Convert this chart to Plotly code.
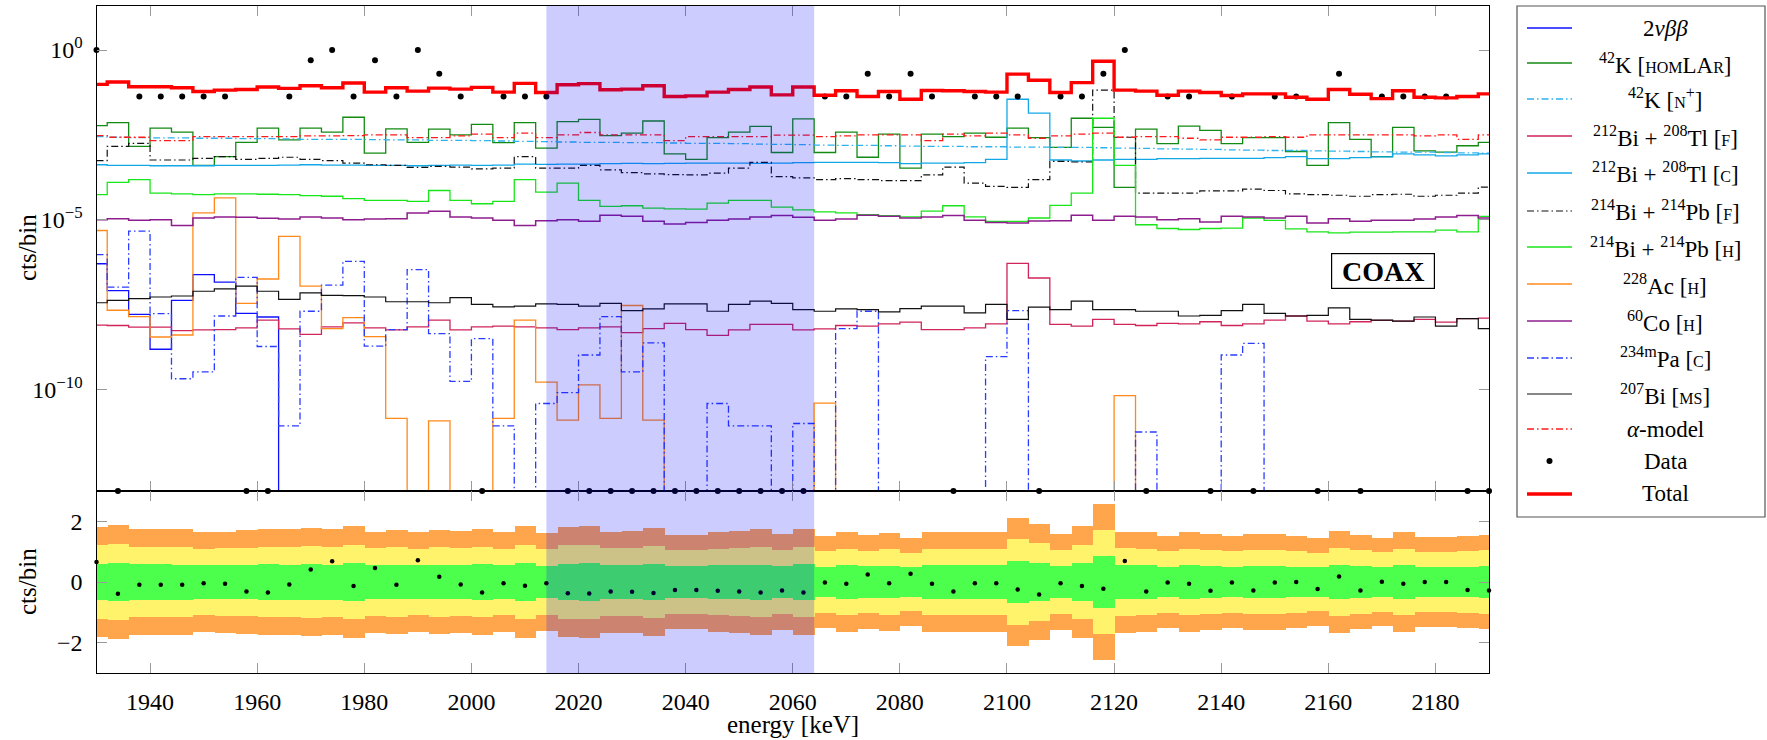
import plotly.graph_objects as go

# ---------------------------------------------------------------- data
# 4 keV bins, centres from 1930 to 2190 keV
energy = list(range(1930, 2191, 4))

# model components, log10(cts/bin) per bin (None = empty bin)
total_exp = [-1.01, -0.94, -1.08, -1.08, -1.11, -1.22, -1.18, -1.16, -1.09, -1.13,
             -1.05, -1.11, -0.97, -1.24, -1.11, -1.21, -1.12, -1.15, -1.10, -1.24,
             -0.98, -1.25, -1.02, -0.99, -1.17, -1.15, -1.05, -1.37, -1.35, -1.24,
             -1.16, -1.09, -1.32, -1.09, -1.33, -1.20, -1.37, -1.22, -1.45, -1.19,
             -1.20, -1.22, -1.24, -0.71, -0.89, -1.25, -0.96, -0.33, -1.18, -1.21,
             -1.33, -1.21, -1.25, -1.34, -1.29, -1.29, -1.39, -1.45, -1.16, -1.30,
             -1.43, -1.20, -1.39, -1.41, -1.37, -1.29]

bb2nu_exp = [-6.30, -7.09, -7.79, -8.82, -7.38, -6.62, -6.84, -7.76, -7.87] + [None] * 57

k42_homlar_exp = [-2.23, -2.14, -2.84, -2.30, -2.42, -3.40, -3.14, -2.72, -2.30, -2.65,
                  -2.30, -2.42, -1.98, -3.04, -2.32, -2.72, -2.33, -2.50, -2.19, -2.73,
                  -2.14, -2.89, -2.11, -2.04, -2.52, -2.45, -2.09, -3.06, -3.22, -2.58,
                  -2.42, -2.25, -3.02, -2.03, -3.02, -2.42, -3.16, -2.48, -3.48, -2.48,
                  -2.55, -2.45, -2.57, -2.30, -2.58, -2.87, -2.01, -2.28, -4.05, -2.33,
                  -2.76, -2.24, -2.37, -2.76, -2.58, -2.58, -2.99, -3.40, -2.14, -2.63,
                  -3.14, -2.28, -2.97, -3.01, -2.82, -2.72]

k42_nplus_exp = [-2.55, -2.57, -2.58, -2.59, -2.59, -2.60, -2.60, -2.61, -2.61, -2.62,
                 -2.63, -2.63, -2.63, -2.64, -2.65, -2.65, -2.66, -2.66, -2.67, -2.68,
                 -2.69, -2.70, -2.71, -2.72, -2.72, -2.73, -2.73, -2.74, -2.75, -2.75,
                 -2.76, -2.77, -2.78, -2.79, -2.80, -2.81, -2.81, -2.82, -2.83, -2.84,
                 -2.84, -2.85, -2.85, -2.86, -2.86, -2.87, -2.87, -2.88, -2.89, -2.90,
                 -2.91, -2.92, -2.93, -2.94, -2.95, -2.96, -2.96, -2.97, -2.98, -2.99,
                 -3.00, -3.01, -3.01, -3.02, -3.03, -3.04]

bi212_f_exp = [-8.11, -8.12, -8.17, -8.17, -8.27, -8.25, -8.24, -8.19, -7.96, -8.22,
               -8.38, -8.16, -8.04, -8.19, -8.25, -8.16, -7.96, -8.25, -8.16, -8.14,
               -8.16, -8.19, -8.24, -8.19, -8.16, -8.33, -8.21, -8.06, -8.24, -8.41,
               -8.25, -8.09, -8.09, -8.25, -8.22, -8.12, -8.14, -8.07, -8.02, -8.24,
               -8.24, -8.19, -8.07, -6.29, -6.72, -8.09, -8.14, -7.94, -8.09, -8.12,
               -8.06, -8.07, -8.01, -8.12, -8.07, -7.96, -7.84, -7.99, -8.07, -8.01,
               -7.97, -7.99, -7.94, -8.02, -7.92, -7.90]

bi212_c_exp = [-3.38, -3.40, -3.40, -3.41, -3.41, -3.41, -3.40, -3.40, -3.40, -3.39,
               -3.38, -3.39, -3.39, -3.40, -3.40, -3.41, -3.40, -3.39, -3.40, -3.39,
               -3.36, -3.37, -3.36, -3.36, -3.35, -3.34, -3.35, -3.34, -3.33, -3.33,
               -3.33, -3.34, -3.33, -3.32, -3.31, -3.31, -3.31, -3.32, -3.35, -3.33,
               -3.33, -3.32, -3.22, -1.45, -1.86, -3.24, -3.27, -3.24, -3.22, -3.22,
               -3.20, -3.20, -3.19, -3.19, -3.19, -3.17, -3.14, -3.20, -3.20, -3.17,
               -3.15, -3.06, -3.09, -3.12, -3.09, -3.06]

bi214_f_exp = [-3.26, -2.84, -2.75, -3.24, -3.24, -3.19, -3.14, -3.22, -3.19, -3.16,
               -3.22, -3.26, -3.33, -3.38, -3.40, -3.46, -3.43, -3.45, -3.50, -3.48,
               -3.14, -3.48, -3.48, -3.40, -3.53, -3.61, -3.65, -3.67, -3.68, -3.63,
               -3.48, -3.31, -3.73, -3.77, -3.82, -3.79, -3.82, -3.85, -3.85, -3.68,
               -3.45, -3.92, -4.02, -4.05, -3.82, -3.28, -3.30, -1.18, -2.57, -4.22,
               -4.22, -4.22, -4.15, -4.15, -4.10, -4.14, -4.24, -4.26, -4.28, -4.31,
               -4.26, -4.25, -4.31, -4.28, -4.22, -4.04]

bi214_h_exp = [-4.26, -3.90, -3.82, -4.22, -4.24, -4.26, -4.24, -4.24, -4.25, -4.26,
               -4.29, -4.31, -4.38, -4.43, -4.43, -4.46, -4.14, -4.43, -4.53, -4.46,
               -3.82, -4.19, -3.92, -4.43, -4.61, -4.59, -4.66, -4.68, -4.69, -4.51,
               -4.43, -4.43, -4.63, -4.71, -4.77, -4.80, -4.85, -4.88, -4.92, -4.75,
               -4.59, -4.92, -5.05, -5.05, -4.95, -4.58, -4.22, -2.01, -3.40, -5.15,
               -5.26, -5.29, -5.26, -5.25, -4.95, -5.02, -5.27, -5.36, -5.39, -5.37,
               -5.37, -5.36, -5.36, -5.31, -5.36, -4.90]

ac228_exp = [-5.32, -7.67, -7.86, -8.46, -8.40, -4.80, -4.36, -7.47, -6.75, -5.49,
             -6.96, -8.21, -7.89, -8.45, -10.86, None, -10.93, None, None, -10.86,
             -7.96, -9.79, -10.91, -9.87, -10.86, -7.53, -10.91, None, None, None,
             None, None, None, None, -10.41, None, None, None, None, None,
             None, None, None, None, None, None, None, None, -10.19, None,
             None, None, None, None, None, None, None, None, None, None,
             None, None, None, None, None, None]

co60_exp = [-5.00, -4.97, -5.02, -5.00, -5.17, -4.95, -4.92, -4.93, -4.96, -4.98,
            -4.92, -4.95, -5.00, -4.98, -4.97, -4.80, -4.75, -4.92, -4.95, -5.02,
            -5.17, -5.03, -5.00, -5.05, -4.87, -4.90, -5.05, -5.13, -5.08, -5.02,
            -4.98, -4.92, -4.88, -4.93, -5.02, -4.98, -4.87, -4.90, -4.95, -4.92,
            -4.88, -5.02, -5.08, -5.10, -5.04, -5.03, -4.87, -5.02, -4.90, -4.92,
            -5.00, -4.97, -5.07, -4.90, -4.92, -4.95, -4.90, -5.10, -4.97, -5.05,
            -5.02, -5.02, -4.98, -4.92, -4.88, -4.95]

pa234m_exp = [-6.03, -6.99, -5.34, -7.77, -9.69, -9.49, -7.84, -6.70, -8.74, -11.08,
              -7.70, -6.93, -6.23, -8.73, -8.24, -6.47, -8.36, -9.77, -8.51, -11.08,
              None, -10.42, -10.10, -8.99, -7.86, -9.49, -8.63, None, None, -10.42,
              -11.08, -11.08, None, -11.01, None, -8.21, -7.70, None, None, None,
              None, None, -9.04, -7.68, None, None, None, None, None, -11.26,
              None, None, None, -8.99, -8.65, None, None, None, None, None,
              None, None, None, None, None, None]

bi207_exp = [-7.45, -7.38, -7.33, -7.28, -7.25, -7.11, -7.04, -6.96, -7.11, -7.35,
             -7.16, -7.23, -7.24, -7.28, -7.42, -7.42, -7.45, -7.30, -7.50, -7.57,
             -7.55, -7.48, -7.50, -7.55, -7.47, -7.68, -7.63, -7.48, -7.48, -7.70,
             -7.50, -7.40, -7.47, -7.65, -7.70, -7.63, -7.65, -7.72, -7.62, -7.55,
             -7.55, -7.75, -7.50, -7.94, -7.58, -7.65, -7.40, -7.65, -7.65, -7.70,
             -7.70, -7.84, -7.82, -7.68, -7.50, -7.76, -7.84, -7.82, -7.60, -7.94,
             -7.96, -7.99, -7.87, -8.14, -7.92, -8.21]

alpha_exp = [-2.52, -2.57, -2.57, -2.67, -2.67, -2.55, -2.55, -2.55, -2.55, -2.55,
             -2.53, -2.53, -2.52, -2.50, -2.50, -2.58, -2.58, -2.53, -2.48, -2.58,
             -2.45, -2.58, -2.50, -2.43, -2.50, -2.50, -2.50, -2.67, -2.55, -2.55,
             -2.55, -2.55, -2.51, -2.51, -2.55, -2.53, -2.50, -2.50, -2.50, -2.67,
             -2.48, -2.53, -2.45, -2.50, -2.60, -2.53, -2.48, -2.45, -2.57, -2.55,
             -2.55, -2.60, -2.65, -2.57, -2.57, -2.55, -2.57, -2.50, -2.50, -2.50,
             -2.50, -2.50, -2.53, -2.50, -2.63, -2.50]

# observed counts per bin
data_cts = [1.0, 0, 0.043, 0.043, 0.043, 0.043, 0.043, 0, 0, 0.043,
            0.5, 1.0, 0.043, 0.5, 0.043, 1.0, 0.2, 0.043, 0, 0.043,
            0.043, 0.043, 0, 0, 0, 0, 0, 0, 0, 0,
            0, 0, 0, 0, 0.043, 0.043, 0.2, 0.043, 0.2, 0.043,
            0, 0.043, 0.043, 0.043, 0, 0.043, 0.043, 0.2, 1.0, 0,
            0.043, 0.043, 0, 0.043, 0, 0.043, 0.043, 0, 0.2, 0,
            0.043, 0.043, 0.043, 0.043, 0, 0]

# residual panel: points and 1-sigma band half-width per bin
residual = [0.66, -0.39, -0.09, -0.09, -0.09, -0.04, -0.06, -0.31, -0.35, -0.08,
            0.41, 0.68, -0.13, 0.46, -0.09, 0.72, 0.17, -0.08, -0.35, -0.04,
            -0.12, -0.04, -0.37, -0.38, -0.31, -0.32, -0.36, -0.26, -0.26, -0.29,
            -0.31, -0.35, -0.28, -0.35, -0.02, -0.06, 0.25, -0.04, 0.27, -0.06,
            -0.31, -0.04, -0.04, -0.25, -0.41, -0.04, -0.13, -0.22, 0.69, -0.31,
            -0.02, -0.06, -0.29, -0.02, -0.28, -0.02, 0.00, -0.23, 0.18, -0.28,
            0.01, -0.06, 0.00, 0.00, -0.26, -0.28]

sigma = [0.603, 0.622, 0.585, 0.585, 0.577, 0.547, 0.555, 0.566, 0.585, 0.577,
         0.592, 0.577, 0.614, 0.555, 0.570, 0.547, 0.570, 0.562, 0.581, 0.547,
         0.611, 0.540, 0.603, 0.611, 0.555, 0.562, 0.592, 0.521, 0.521, 0.547,
         0.562, 0.577, 0.529, 0.585, 0.510, 0.547, 0.518, 0.540, 0.484, 0.547,
         0.547, 0.547, 0.547, 0.704, 0.640, 0.529, 0.611, 0.853, 0.555, 0.547,
         0.510, 0.547, 0.532, 0.510, 0.525, 0.525, 0.503, 0.480, 0.562, 0.521,
         0.488, 0.547, 0.499, 0.499, 0.503, 0.521]

x_ticks = [1940, 1960, 1980, 2000, 2020, 2040, 2060, 2080, 2100, 2120, 2140, 2160, 2180]
blind_window = (2014, 2064)

# ---------------------------------------------------------------- helpers
W, H = 1767, 740
Y_MIN_EXP, Y_MAX_EXP = -13, 1.3
FLOOR = 10.0 ** Y_MIN_EXP


def px_x(p):
    return p / W


def px_y(p):
    return 1 - p / H


def to_counts(exps):
    return [10.0 ** e if e is not None else 0.0 for e in exps]


def on_log_axis(vals):
    # empty bins sit on the lower edge of the log axis
    return [v if v > 0 else FLOOR for v in vals]


FONT = "Liberation Serif"
DASHDOT = "7px,3px,1.5px,3px"
TICK_SIZE = 24
TITLE_SIZE = 25
LEGEND_SIZE = 23


def sc(s):
    return "<span style='font-size:16px'>%s</span>" % s


components = [
    ("2<i>νββ</i>", bb2nu_exp, "#1010FF", "solid", 1.3),
    ("<sup>42</sup>K [%sLA%s]" % (sc("HOM"), sc("R")), k42_homlar_exp, "#138A13", "solid", 1.3),
    ("<sup>42</sup>K [%s<sup>+</sup>]" % sc("N"), k42_nplus_exp, "#2DB2F0", DASHDOT, 1.3),
    ("<sup>212</sup>Bi + <sup>208</sup>Tl [%s]" % sc("F"), bi212_f_exp, "#D0245A", "solid", 1.3),
    ("<sup>212</sup>Bi + <sup>208</sup>Tl [%s]" % sc("C"), bi212_c_exp, "#12A8E8", "solid", 1.3),
    ("<sup>214</sup>Bi + <sup>214</sup>Pb [%s]" % sc("F"), bi214_f_exp, "#111111", DASHDOT, 1.2),
    ("<sup>214</sup>Bi + <sup>214</sup>Pb [%s]" % sc("H"), bi214_h_exp, "#19E619", "solid", 1.3),
    ("<sup>228</sup>Ac [%s]" % sc("H"), ac228_exp, "#FF8A1C", "solid", 1.3),
    ("<sup>60</sup>Co [%s]" % sc("H"), co60_exp, "#8E1E8E", "solid", 1.5),
    ("<sup>234m</sup>Pa [%s]" % sc("C"), pa234m_exp, "#2A3CFF", DASHDOT, 1.3),
    ("<sup>207</sup>Bi [%s]" % sc("MS"), bi207_exp, "#111111", "solid", 1.2),
    ("<i>α</i>-model", alpha_exp, "#FF1A1A", DASHDOT, 1.3),
]

fig = go.Figure()

# ---------------------------------------------------------------- top panel
for name, exps, color, dash, width in components:
    fig.add_trace(go.Scatter(
        x=energy, y=on_log_axis(to_counts(exps)), mode="lines",
        line=dict(color=color, dash=dash, width=width, shape="hvh"),
        name=name, xaxis="x", yaxis="y", showlegend=False, hoverinfo="skip"))

fig.add_trace(go.Scatter(
    x=energy, y=on_log_axis(data_cts), mode="markers",
    marker=dict(color="black", size=6), cliponaxis=False,
    xaxis="x", yaxis="y", showlegend=False, name="Data"))

fig.add_trace(go.Scatter(
    x=energy, y=on_log_axis(to_counts(total_exp)), mode="lines",
    line=dict(color="#FF0000", width=3.4, shape="hvh"),
    xaxis="x", yaxis="y", showlegend=False, name="Total"))

# ---------------------------------------------------------------- residual panel
for k, color in [(3, "#FFA64D"), (2, "#FFF36B"), (1, "#4DFF4D")]:
    fig.add_trace(go.Bar(
        x=energy, y=[2 * k * s for s in sigma], base=[-k * s for s in sigma],
        width=4, marker=dict(color=color, line=dict(width=0)),
        xaxis="x2", yaxis="y2", showlegend=False, hoverinfo="skip"))

fig.add_trace(go.Scatter(
    x=energy, y=residual, mode="markers",
    marker=dict(color="black", size=4.5), cliponaxis=False,
    xaxis="x2", yaxis="y2", showlegend=False))

# ---------------------------------------------------------------- layout
x_dom = [px_x(96.5), px_x(1489)]
top_dom = [px_y(491), px_y(6)]
bot_dom = [px_y(673), px_y(491)]

axis_common = dict(showline=True, linecolor="black", linewidth=1.3,
                   mirror="allticks", ticks="inside", ticklen=10,
                   tickcolor="#9a9a9a", tickwidth=1.2, showgrid=False,
                   zeroline=False,
                   tickfont=dict(family=FONT, size=TICK_SIZE, color="black"))

fig.update_layout(
    width=W, height=H,
    margin=dict(l=0, r=0, t=0, b=0),
    paper_bgcolor="white", plot_bgcolor="white",
    barmode="overlay", bargap=0,
    font=dict(family=FONT, size=TICK_SIZE, color="black"),
    xaxis=dict(domain=x_dom, range=[1930, 2190], anchor="y",
               tickvals=x_ticks, showticklabels=False, **axis_common),
    yaxis=dict(domain=top_dom, type="log", range=[Y_MIN_EXP, Y_MAX_EXP], anchor="x",
               tickvals=[1, 1e-5, 1e-10],
               ticktext=["10<sup>0</sup>", "10<sup>−5</sup>", "10<sup>−10</sup>"],
               ticklabelstandoff=8, **axis_common),
    xaxis2=dict(domain=x_dom, range=[1930, 2190], anchor="y2", matches="x",
                tickvals=x_ticks, ticktext=[str(v) for v in x_ticks],
                ticklabelstandoff=7, **axis_common),
    yaxis2=dict(domain=bot_dom, range=[-3, 3], anchor="x2",
                tickvals=[-2, 0, 2], ticktext=["−2", "0", "2"],
                ticklabelstandoff=8, **axis_common),
)

shapes = []
annotations = []

# blinded window overlay across both panels
shapes.append(dict(type="rect", xref="x", yref="paper",
                   x0=blind_window[0], x1=blind_window[1],
                   y0=bot_dom[0], y1=top_dom[1],
                   fillcolor="rgba(0,0,255,0.2)", line=dict(width=0), layer="above"))

# axis titles
for yc in (248, 582):
    annotations.append(dict(text="cts/bin", xref="paper", yref="paper",
                            x=px_x(27), y=px_y(yc), textangle=-90, showarrow=False,
                            xanchor="center", yanchor="middle",
                            font=dict(size=TITLE_SIZE, family=FONT)))
annotations.append(dict(text="energy [keV]", xref="paper", yref="paper",
                        x=(x_dom[0] + x_dom[1]) / 2, y=px_y(724), showarrow=False,
                        xanchor="center", yanchor="middle",
                        font=dict(size=TITLE_SIZE, family=FONT)))

# detector tag
annotations.append(dict(text="<b>COAX</b>", xref="paper", yref="paper",
                        x=px_x(1382.5), y=px_y(270.5), showarrow=False,
                        xanchor="center", yanchor="middle",
                        width=100, height=32, bordercolor="black", borderwidth=1.2,
                        borderpad=1, bgcolor="white",
                        font=dict(size=28, family=FONT)))

# legend box
shapes.append(dict(type="rect", xref="paper", yref="paper",
                   x0=px_x(1517), x1=px_x(1765), y0=px_y(517), y1=px_y(6),
                   line=dict(color="#555555", width=1.2), fillcolor="white", layer="below"))

legend_rows = [c[0:1] + c[2:] for c in components]
legend_rows.append(("Data", "black", "marker", 0))
legend_rows.append(("Total", "#FF0000", "solid", 3.4))
row_y = [28, 63, 99, 136, 173, 211, 247, 284, 321, 358, 394, 429, 461, 494]

for (label, color, dash, width), yy in zip(legend_rows, row_y):
    if dash == "marker":
        shapes.append(dict(type="circle", xref="paper", yref="paper",
                           x0=px_x(1546.5), x1=px_x(1552.5), y0=px_y(yy + 3), y1=px_y(yy - 3),
                           fillcolor="black", line=dict(width=0)))
    else:
        shapes.append(dict(type="line", xref="paper", yref="paper",
                           x0=px_x(1527), x1=px_x(1572), y0=px_y(yy), y1=px_y(yy),
                           line=dict(color=color, dash=dash, width=width)))
    annotations.append(dict(text=label, xref="paper", yref="paper",
                            x=px_x(1665), y=px_y(yy), showarrow=False,
                            xanchor="center", yanchor="middle",
                            font=dict(size=LEGEND_SIZE, family=FONT)))

fig.update_layout(shapes=shapes, annotations=annotations)

fig.write_html("out.html")
